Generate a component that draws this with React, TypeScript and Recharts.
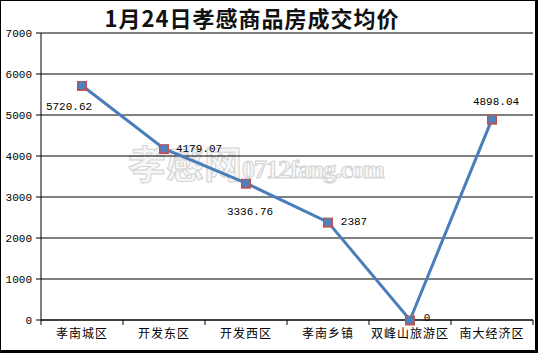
// 1月24日孝感商品房成交均价 - line chart with square markers
import { LineChart, Line, XAxis, YAxis, CartesianGrid, LabelList } from 'recharts';

const CATEGORIES = ['孝南城区', '开发东区', '开发西区', '孝南乡镇', '双峰山旅游区', '南大经济区'];
const PRICES = [5720.62, 4179.07, 3336.76, 2387, 0, 4898.04];
const Y_TICKS = [0, 1000, 2000, 3000, 4000, 5000, 6000, 7000];

// label placement relative to each point (dx, dy)
const LABEL_OFFSETS: [number, number][] = [
  [-13, 22],
  [35, 0],
  [4, 29],
  [26, 0],
  [17, -2],
  [4, -17],
];

const WIDTH = 538;
const HEIGHT = 353;
const MARGIN = { top: 33, right: 5, left: 0, bottom: 3 };
const Y_AXIS_W = 41;
const BAND = (WIDTH - MARGIN.right - Y_AXIS_W) / CATEGORIES.length;

const LINE_COLOR = '#4a7ebb';
const MARKER_COLOR = '#c0504d';
const MONO = '"Liberation Mono", "DejaVu Sans Mono", monospace';
const CJK = '"Noto Sans CJK SC", sans-serif';

const data = CATEGORIES.map((name, i) => ({ name, pos: i + 0.5, price: PRICES[i] }));

function Marker(props: any) {
  const { cx, cy, index } = props;
  if (cx == null || cy == null) return null;
  return (
    <g key={`m-${index}`}>
      <rect x={cx - 5} y={cy - 4.5} width={10} height={10} fill={MARKER_COLOR} />
      <circle cx={cx} cy={cy} r={4} fill="#4f81bd" />
    </g>
  );
}

function CategoryTick(props: any) {
  const { x, y, payload } = props;
  const idx = payload.value;
  if (idx >= CATEGORIES.length) return null;
  return (
    <text
      x={x + BAND / 2}
      y={y + 5}
      textAnchor="middle"
      dominantBaseline="central"
      fontSize={12}
      letterSpacing={1}
      fontFamily={CJK}
      fill="#000"
    >
      {CATEGORIES[idx]}
    </text>
  );
}

function PriceLabel(props: any) {
  const { x, y, value, index } = props;
  const [dx, dy] = LABEL_OFFSETS[index] || [0, -12];
  return (
    <text
      x={x + dx}
      y={y + dy}
      textAnchor="middle"
      dominantBaseline="central"
      fontSize={11}
      fontFamily={MONO}
      fill="#000"
    >
      {value}
    </text>
  );
}

export default function App() {
  return (
    <div
      style={{
        position: 'fixed',
        left: 0,
        top: 0,
        width: WIDTH,
        height: HEIGHT,
        background: '#fff',
        overflow: 'hidden',
      }}
    >
      {/* site watermark, behind the plot */}
      <div
        style={{
          position: 'absolute',
          left: 128,
          top: 134,
          whiteSpace: 'nowrap',
          pointerEvents: 'none',
          color: '#f6f6f6',
          WebkitTextStroke: '1px #d2d2d2',
        }}
      >
        <span style={{ fontFamily: CJK, fontWeight: 700, fontSize: 38 }}>孝感网</span>
        <span
          style={{
            fontFamily: '"Liberation Serif", serif',
            fontWeight: 700,
            fontSize: 26,
            letterSpacing: -1,
          }}
        >
          0712fang.com
        </span>
      </div>

      <div
        style={{
          position: 'absolute',
          left: 0,
          right: 0,
          top: 4,
          paddingRight: 34,
          textAlign: 'center',
          fontFamily: CJK,
          fontWeight: 700,
          fontSize: 22,
          letterSpacing: 1,
          lineHeight: '26px',
          color: '#111',
        }}
      >
        1月24日孝感商品房成交均价
      </div>

      <LineChart
        width={WIDTH}
        height={HEIGHT}
        data={data}
        margin={MARGIN}
        style={{ position: 'absolute', left: 0, top: 0 }}
      >
        <CartesianGrid vertical={false} stroke="#000" strokeWidth={1} />
        <XAxis
          dataKey="pos"
          type="number"
          domain={[0, CATEGORIES.length]}
          ticks={CATEGORIES.map((_, i) => i).concat(CATEGORIES.length)}
          interval={0}
          height={30}
          tickSize={5}
          axisLine={{ stroke: '#000' }}
          tickLine={{ stroke: '#000' }}
          tick={<CategoryTick />}
        />
        <YAxis
          width={Y_AXIS_W}
          domain={[0, 7000]}
          ticks={Y_TICKS}
          interval={0}
          tickSize={5}
          tickMargin={4}
          axisLine={{ stroke: '#000' }}
          tickLine={{ stroke: '#000' }}
          tick={{ fontSize: 11, fontFamily: MONO, fill: '#000' }}
        />
        <Line
          type="linear"
          dataKey="price"
          stroke={LINE_COLOR}
          strokeWidth={3}
          dot={<Marker />}
          activeDot={false}
          isAnimationActive={false}
        >
          <LabelList dataKey="price" content={<PriceLabel />} />
        </Line>
      </LineChart>

      <div
        style={{
          position: 'absolute',
          inset: 0,
          borderTop: '1px solid #000',
          borderLeft: '1px solid #000',
          borderRight: '3px solid #000',
          borderBottom: '3px solid #000',
          pointerEvents: 'none',
        }}
      />
    </div>
  );
}
